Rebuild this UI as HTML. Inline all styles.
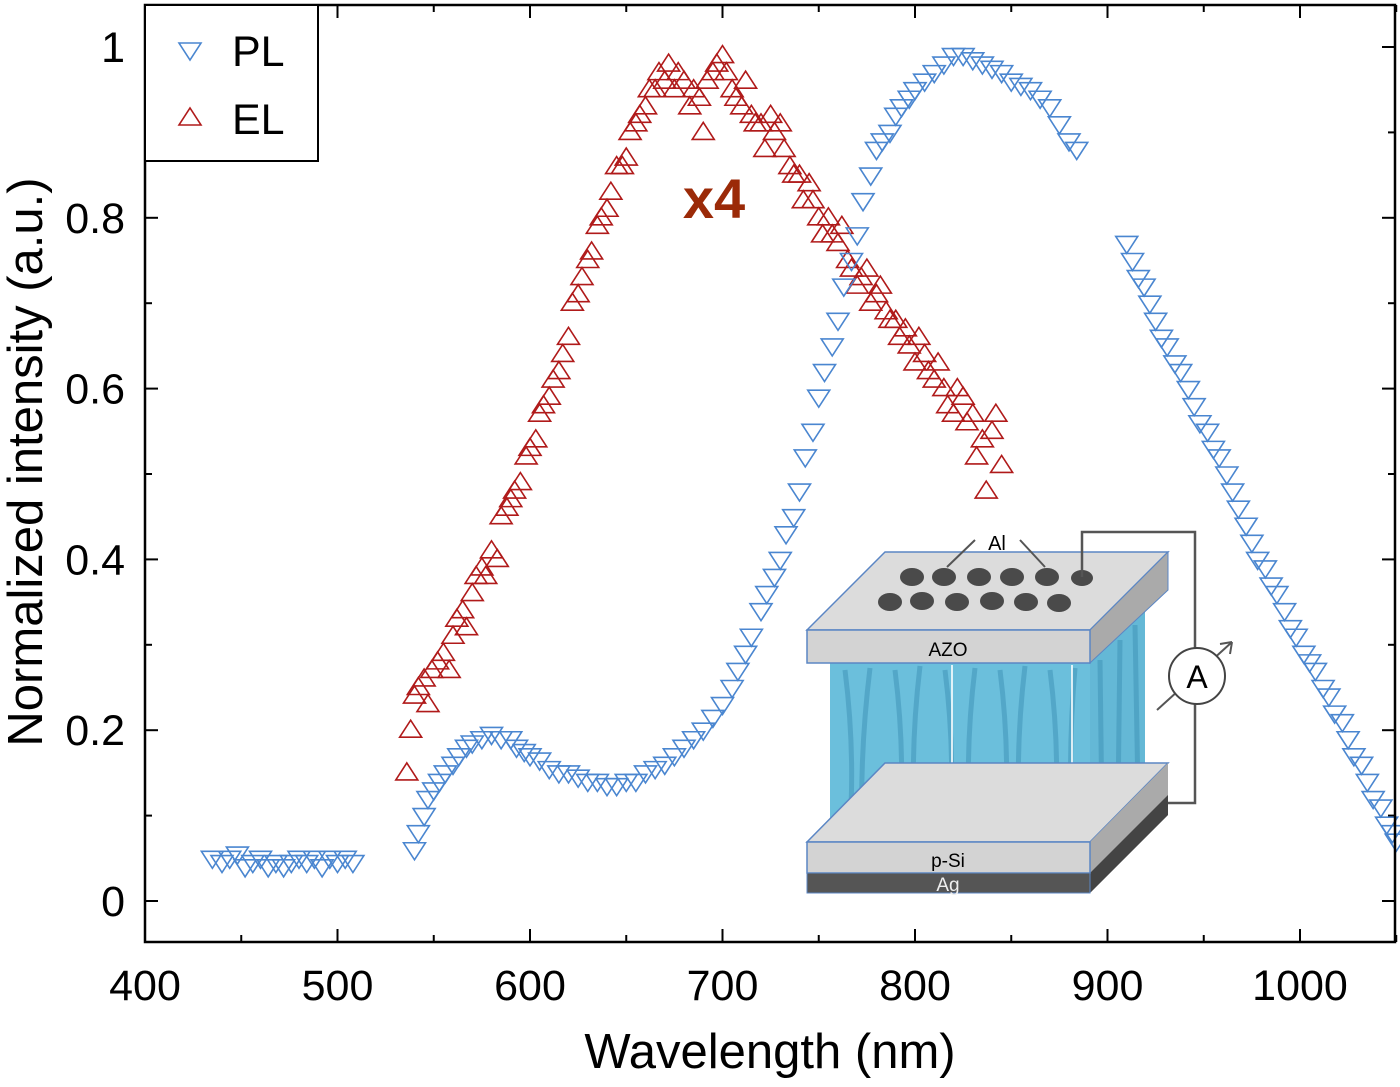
<!DOCTYPE html>
<html><head><meta charset="utf-8"><style>
body{margin:0;background:#fff}
svg text{font-family:"Liberation Sans",sans-serif}
</style></head><body>
<svg id="chart" width="1400" height="1082" viewBox="0 0 1400 1082" xmlns="http://www.w3.org/2000/svg">
<g id="ticks"></g>
<g id="inset">
  <polygon points="830,663 1090,663 1090,832 830,832" fill="#6bbfdc"/>
  <polygon points="1090,663 1145,610 1145,790 1090,832" fill="#64b8d6"/>
  <g stroke="#3f93b8" stroke-width="5" fill="none" opacity="0.55">
    <path d="M845 670 Q855 750 850 825 M870 668 Q860 750 862 828 M895 670 Q905 750 900 826 M920 666 Q910 750 915 828 M945 670 Q955 750 950 826 M975 668 Q965 750 970 828 M1000 670 Q1010 750 1005 826 M1025 666 Q1015 750 1020 828 M1050 670 Q1060 750 1055 826 M1075 668 Q1068 750 1072 828 M1100 660 L1102 820 M1120 640 L1118 805 M1135 625 L1138 795"/>
  </g>
  <g stroke="#fff" stroke-width="2" fill="none" opacity="0.8">
    <path d="M952 665 L952 830 M1072 665 L1072 830"/>
  </g>
  <polygon points="807,842 1090,842 1168,763 885,763" fill="#dcdcdc" stroke="#5b86c4" stroke-width="1.5"/>
  <polygon points="1090,842 1168,763 1168,815 1090,893" fill="#aaa"/>
  <polygon points="1090,873 1168,795 1168,815 1090,893" fill="#444"/>
  <rect x="807" y="842" width="283" height="31" fill="#d3d3d3" stroke="#5b86c4" stroke-width="1.5"/>
  <rect x="807" y="873" width="283" height="20" fill="#555" stroke="#5b86c4" stroke-width="1"/>
  <polygon points="807,630 885,552 1168,552 1090,630" fill="#dcdcdc" stroke="#5b86c4" stroke-width="1.5"/>
  <polygon points="1090,630 1168,552 1168,590 1090,663" fill="#aaa" stroke="#5b86c4" stroke-width="1"/>
  <rect x="807" y="630" width="283" height="33" fill="#d3d3d3" stroke="#5b86c4" stroke-width="1.5"/>
  <g fill="#4a4a4a">
    <ellipse cx="912" cy="577" rx="12" ry="9"/><ellipse cx="944" cy="577" rx="12" ry="9"/><ellipse cx="979" cy="577" rx="12" ry="9"/><ellipse cx="1012" cy="577" rx="12" ry="9"/><ellipse cx="1047" cy="577" rx="12" ry="9"/><ellipse cx="1082" cy="578" rx="11" ry="8"/>
    <ellipse cx="890" cy="602" rx="12" ry="9"/><ellipse cx="922" cy="601" rx="12" ry="9"/><ellipse cx="957" cy="602" rx="12" ry="9"/><ellipse cx="992" cy="601" rx="12" ry="9"/><ellipse cx="1026" cy="602" rx="12" ry="9"/><ellipse cx="1059" cy="603" rx="12" ry="9"/>
  </g>
  <path d="M1082 577 L1082 532 L1195 532 L1195 803 L1168 803" fill="none" stroke="#555" stroke-width="2.5"/>
  <path d="M975 540 L947 567 M1020 540 L1045 567" stroke="#555" stroke-width="2"/>
  <path d="M1157 710 L1232 642" stroke="#555" stroke-width="2"/>
  <path d="M1232 642 L1220 644 M1232 642 L1230 654" stroke="#555" stroke-width="2"/>
  <circle cx="1197" cy="676" r="28" fill="#fff" stroke="#444" stroke-width="2"/>
  <text x="1197" y="688" font-size="32" text-anchor="middle">A</text>
  <text x="997" y="550" font-size="20" text-anchor="middle">Al</text>
  <text x="948" y="656" font-size="19" text-anchor="middle">AZO</text>
  <text x="948" y="867" font-size="19" text-anchor="middle">p-Si</text>
  <text x="948" y="891" font-size="19" text-anchor="middle" fill="#eee">Ag</text>
</g>
<g id="series"></g>
<text x="714" y="218" font-size="56" font-weight="bold" fill="#9b2a08" text-anchor="middle">x4</text>
<rect x="145" y="5" width="1250" height="937" fill="none" stroke="#000" stroke-width="2.5"/>
<g>
  <rect x="145" y="5" width="173" height="156" fill="#fff" stroke="#000" stroke-width="2"/>
  <polygon points="179,43 201,43 190,60" fill="none" stroke="#4a86d0" stroke-width="1.6"/>
  <text x="232" y="66" font-size="43">PL</text>
  <polygon points="179,125 201,125 190,108" fill="none" stroke="#b01a1a" stroke-width="1.6"/>
  <text x="232" y="134" font-size="43">EL</text>
</g>
<text x="770" y="1068" font-size="49" text-anchor="middle">Wavelength (nm)</text>
<text transform="translate(42,462) rotate(-90)" font-size="49" text-anchor="middle">Normalized intensity (a.u.)</text>
</svg>
<script>
const xTicks=[400,500,600,700,800,900,1000];
const yTicks=[0,0.2,0.4,0.6,0.8,1];
const yTickLabels=["0","0.2","0.4","0.6","0.8","1"];
const plWave=[435,440,444,448,452,456,460,464,468,472,476,480,484,488,492,496,500,504,508,
540,542,545,547,550,553,556,560,563,567,570,575,580,585,590,593,597,600,605,610,615,620,625,630,635,640,645,650,655,660,665,670,675,680,685,690,695,700,705,708,712,715,720,723,727,730,733,737,740,743,747,750,753,757,760,763,767,770,773,777,780,783,787,790,793,797,800,805,810,815,820,825,830,835,840,845,850,855,860,865,870,875,880,884,
910,913,916,919,922,925,928,931,935,938,942,945,948,952,955,958,962,965,968,972,975,978,982,985,988,992,995,998,1002,1005,1008,1012,1015,1018,1022,1025,1028,1032,1035,1038,1042,1045,1048,1050];
const plVals=[0.05,0.045,0.05,0.055,0.04,0.045,0.05,0.04,0.045,0.04,0.045,0.05,0.045,0.05,0.04,0.05,0.045,0.05,0.045,
0.06,0.08,0.10,0.12,0.13,0.14,0.15,0.16,0.17,0.18,0.185,0.19,0.195,0.19,0.19,0.18,0.175,0.17,0.165,0.155,0.15,0.15,0.145,0.14,0.14,0.135,0.135,0.14,0.14,0.15,0.155,0.16,0.17,0.18,0.19,0.2,0.215,0.23,0.25,0.27,0.29,0.31,0.34,0.36,0.38,0.40,0.43,0.45,0.48,0.52,0.55,0.59,0.62,0.65,0.68,0.72,0.75,0.78,0.82,0.85,0.88,0.89,0.90,0.92,0.93,0.94,0.95,0.96,0.97,0.98,0.99,0.99,0.985,0.98,0.975,0.97,0.96,0.955,0.95,0.94,0.93,0.91,0.89,0.88,
0.77,0.75,0.73,0.72,0.70,0.68,0.66,0.65,0.63,0.62,0.60,0.58,0.56,0.55,0.53,0.52,0.50,0.48,0.46,0.44,0.42,0.40,0.39,0.37,0.36,0.34,0.32,0.31,0.29,0.28,0.27,0.25,0.24,0.22,0.21,0.19,0.17,0.16,0.14,0.12,0.11,0.09,0.08,0.07];
const elWave=[536,538,540,542,545,547,549,552,555,558,560,562,565,567,570,572,575,577,580,583,585,588,590,592,595,598,600,603,605,607,610,612,615,617,620,622,625,627,630,632,635,637,640,642,645,648,650,652,655,657,660,662,665,667,670,672,675,677,680,683,685,688,690,692,695,697,700,702,705,707,710,712,715,717,720,722,725,727,730,732,735,737,740,742,745,747,750,752,755,757,760,762,765,767,770,772,775,777,780,782,785,787,790,792,795,797,800,802,805,807,810,812,815,817,820,822,825,827,830,832,835,837,840,842,845];
const elVals=[0.15,0.20,0.24,0.25,0.26,0.23,0.27,0.28,0.29,0.27,0.31,0.33,0.34,0.32,0.36,0.38,0.39,0.38,0.41,0.40,0.45,0.46,0.47,0.48,0.49,0.52,0.53,0.54,0.57,0.58,0.59,0.61,0.62,0.64,0.66,0.70,0.71,0.73,0.75,0.76,0.79,0.80,0.81,0.83,0.86,0.86,0.87,0.90,0.91,0.92,0.93,0.95,0.95,0.97,0.96,0.98,0.95,0.97,0.96,0.93,0.95,0.94,0.90,0.96,0.97,0.98,0.99,0.97,0.95,0.94,0.93,0.96,0.92,0.91,0.91,0.88,0.92,0.90,0.91,0.88,0.86,0.85,0.85,0.82,0.84,0.82,0.80,0.78,0.80,0.78,0.77,0.79,0.75,0.74,0.72,0.73,0.74,0.70,0.71,0.72,0.69,0.68,0.68,0.66,0.67,0.65,0.63,0.66,0.64,0.62,0.61,0.63,0.60,0.58,0.57,0.60,0.59,0.56,0.57,0.52,0.54,0.48,0.55,0.57,0.51];

const NS='http://www.w3.org/2000/svg';
const X0=145,X1=1395,Y0=942,Y1=5;
const sx=w=>145+(w-400)*1.925;
const sy=v=>901-v*854;
const tg=document.getElementById('ticks');
function line(x1,y1,x2,y2){const l=document.createElementNS(NS,'line');l.setAttribute('x1',x1);l.setAttribute('y1',y1);l.setAttribute('x2',x2);l.setAttribute('y2',y2);l.setAttribute('stroke','#000');l.setAttribute('stroke-width','2');tg.appendChild(l);return l;}
for(let w=400;w<=1050;w+=50){const x=sx(w);const L=(w%100===0)?13:7;line(x,Y0,x,Y0-L);line(x,Y1,x,Y1+L);}
xTicks.forEach(w=>{const t=document.createElementNS(NS,'text');


t.setAttribute('x',sx(w));t.setAttribute('y',1000);t.setAttribute('font-size','43');t.setAttribute('text-anchor','middle');t.textContent=w;tg.appendChild(t);});
for(let k=0;k<=10;k++){const v=k/10;const y=sy(v);const L=(k%2===0)?13:7;line(X0,y,X0+L,y);line(X1,y,X1-L,y);}
yTicks.forEach((v,i)=>{const t=document.createElementNS(NS,'text');


t.setAttribute('x',125);t.setAttribute('y',sy(v)+15);t.setAttribute('font-size','43');t.setAttribute('text-anchor','end');t.textContent=yTickLabels[i];tg.appendChild(t);});
const sg=document.getElementById('series');
function marker(w,v,down,color,name){const x=sx(w),y=sy(v);const p=document.createElementNS(NS,'polygon');


const pts=down?[[x-11,y-7],[x+11,y-7],[x,y+10]]:[[x-11,y+7],[x+11,y+7],[x,y-10]];
p.setAttribute('points',pts.map(a=>a.join(',')).join(' '));p.setAttribute('fill','none');p.setAttribute('stroke',color);p.setAttribute('stroke-width','1.6');sg.appendChild(p);}
elWave.forEach((w,i)=>marker(w,elVals[i],false,'#b01a1a','el-point'));
plWave.forEach((w,i)=>marker(w,plVals[i],true,'#4a86d0','pl-point'));
</script>
</body></html>
